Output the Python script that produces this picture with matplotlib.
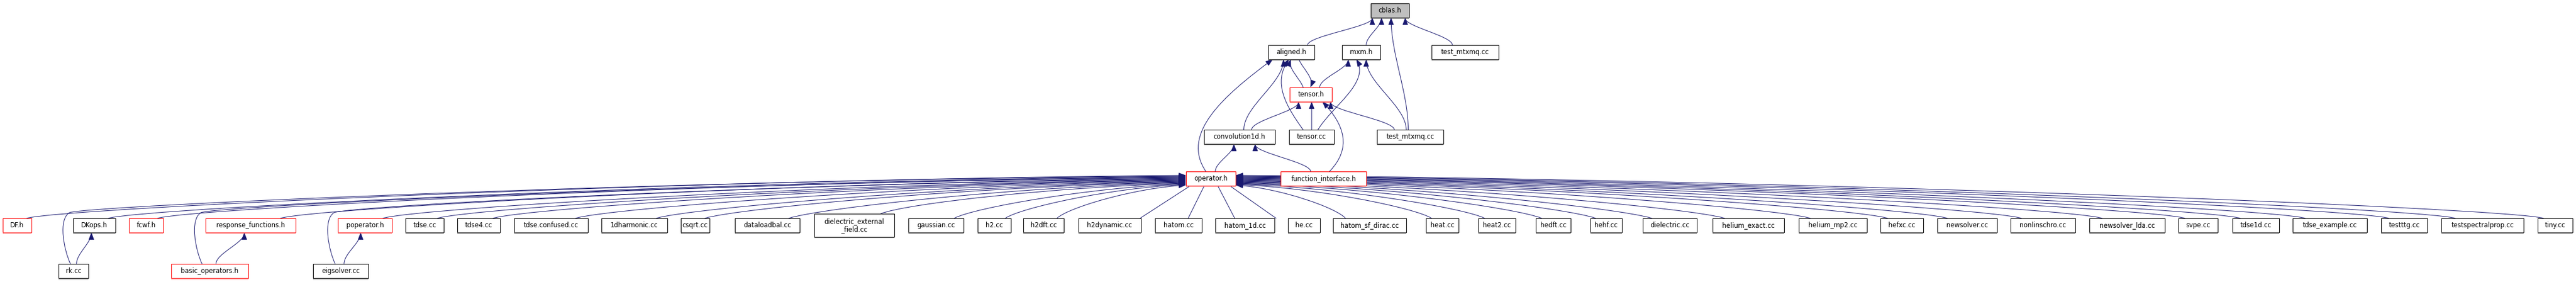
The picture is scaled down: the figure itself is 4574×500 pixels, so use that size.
import matplotlib.pyplot as plt
from matplotlib.patches import Rectangle, FancyArrowPatch, ArrowStyle
from matplotlib.path import Path

# ---- graph data ----
# nodes that have more includers than shown are drawn red
truncated = ['DF.h', 'fcwf.h', 'response_functions.h', 'poperator.h', 'basic_operators.h',
             'tensor.h', 'operator.h', 'function_interface.h']
root = 'cblas.h'

leaves = ['DF.h', 'DKops.h', 'fcwf.h', 'response_functions.h', 'poperator.h', 'tdse.cc',
          'tdse4.cc', 'tdse.confused.cc', '1dharmonic.cc', 'csqrt.cc', 'dataloadbal.cc',
          'dielectric_external\n_field.cc', 'gaussian.cc', 'h2.cc', 'h2dft.cc', 'h2dynamic.cc',
          'hatom.cc', 'hatom_1d.cc', 'he.cc', 'hatom_sf_dirac.cc', 'heat.cc', 'heat2.cc',
          'hedft.cc', 'hehf.cc', 'dielectric.cc', 'helium_exact.cc', 'helium_mp2.cc',
          'hefxc.cc', 'newsolver.cc', 'nonlinschro.cc', 'newsolver_lda.cc', 'svpe.cc',
          'tdse1d.cc', 'tdse_example.cc', 'testttg.cc', 'testspectralprop.cc', 'tiny.cc']
bottom_nodes = ['rk.cc', 'basic_operators.h', 'eigsolver.cc']

# (includer, included)
edges_top = [
    ('aligned.h', 'cblas.h'), ('mxm.h', 'cblas.h'), ('test_mtxmq.cc/2', 'cblas.h'),
    ('test_mtxmq.cc/1', 'cblas.h'), ('tensor.h', 'aligned.h'), ('aligned.h', 'tensor.h'),
    ('tensor.h', 'mxm.h'), ('convolution1d.h', 'aligned.h'), ('tensor.cc', 'aligned.h'),
    ('operator.h', 'aligned.h'), ('tensor.cc', 'mxm.h'), ('test_mtxmq.cc/2', 'mxm.h'),
    ('convolution1d.h', 'tensor.h'), ('tensor.cc', 'tensor.h'),
    ('function_interface.h', 'tensor.h'), ('test_mtxmq.cc/2', 'tensor.h'),
    ('operator.h', 'convolution1d.h'), ('function_interface.h', 'convolution1d.h'),
]
edges_low = [('rk.cc', 'DKops.h'), ('basic_operators.h', 'response_functions.h'),
             ('eigsolver.cc', 'poperator.h')]
edges_fan = [(n, 'operator.h') for n in leaves + bottom_nodes]

# ---- layout (pixel grid of the graph, y down) ----
row_top = [6, 80, 155, 230, 304, 387, 468]
box_h = 25
layout = {
    'cblas.h': (0, 2434, 2502), 'aligned.h': (1, 2252, 2334), 'mxm.h': (1, 2383, 2451),
    'test_mtxmq.cc/1': (1, 2542, 2661), 'tensor.h': (2, 2290, 2365),
    'convolution1d.h': (3, 2138, 2264), 'tensor.cc': (3, 2289, 2369),
    'test_mtxmq.cc/2': (3, 2445, 2563), 'operator.h': (4, 2106, 2194),
    'function_interface.h': (4, 2274, 2426),
    'rk.cc': (6, 104, 157), 'basic_operators.h': (6, 304, 441), 'eigsolver.cc': (6, 556, 654),
}
leaf_x = [(5, 56), (130, 205), (229, 290), (365, 525), (600, 696), (720, 788), (812, 888),
          (913, 1044), (1068, 1185), (1209, 1260), (1305, 1420), (1446, 1588), (1613, 1711),
          (1736, 1795), (1817, 1889), (1915, 2026), (2051, 2134), (2158, 2263), (2287, 2344),
          (2367, 2497), (2532, 2590), (2625, 2691), (2727, 2789), (2824, 2880), (2917, 3013),
          (3041, 3168), (3194, 3315), (3339, 3415), (3440, 3546), (3570, 3685), (3710, 3844),
          (3868, 3938), (3964, 4047), (4071, 4203), (4228, 4310), (4335, 4481), (4506, 4568)]
for name, (l, r) in zip(leaves, leaf_x):
    layout[name] = (5, l, r)

# anchor fractions along source/target box and bends for the short edges
route = {
    ('aligned.h', 'cblas.h'): (0.85, 0.04, 0, 0),
    ('mxm.h', 'cblas.h'): (0.63, 0.28, 0, 0),
    ('test_mtxmq.cc/2', 'cblas.h'): (0.47, 0.53, 0, 0),
    ('test_mtxmq.cc/1', 'cblas.h'): (0.31, 0.9, 0, 0),
    ('tensor.h', 'aligned.h'): (0.32, 0.49, -6, -6),
    ('aligned.h', 'tensor.h'): (0.66, 0.49, 7, 7),
    ('tensor.h', 'mxm.h'): (0.71, 0.16, 0, 0),
    ('convolution1d.h', 'aligned.h'): (0.56, 0.33, 0, 0),
    ('tensor.cc', 'aligned.h'): (0.31, 0.45, -30, -30),
    ('operator.h', 'aligned.h'): (0.4, 0.1, -45, -90),
    ('tensor.cc', 'mxm.h'): (0.64, 0.37, 25, 25),
    ('test_mtxmq.cc/2', 'mxm.h'): (0.44, 0.63, 0, 0),
    ('convolution1d.h', 'tensor.h'): (0.67, 0.21, 0, 0),
    ('tensor.cc', 'tensor.h'): (0.5, 0.52, 0, 0),
    ('function_interface.h', 'tensor.h'): (0.57, 0.77, 40, 40),
    ('test_mtxmq.cc/2', 'tensor.h'): (0.26, 0.97, 0, 0),
    ('operator.h', 'convolution1d.h'): (0.59, 0.42, 0, 0),
    ('function_interface.h', 'convolution1d.h'): (0.35, 0.72, 0, 0),
    ('rk.cc', 'DKops.h'): (0.6, 0.43, 0, 0),
    ('basic_operators.h', 'response_functions.h'): (0.58, 0.43, 0, 0),
    ('eigsolver.cc', 'poperator.h'): (0.56, 0.42, 0, 0),
}

edge_col = '#191970'
fs = 8.3

fig = plt.figure(figsize=(45.74, 5.0), dpi=100)
ax = fig.add_axes([0, 0, 1, 1])
ax.set_xlim(0, 4574)
ax.set_ylim(500, 0)
ax.axis('off')


def box_of(name):
    rank, l, r = layout[name]
    nlines = name.count('\n') + 1
    h = box_h + 16 * (nlines - 1)
    top = row_top[rank] + box_h / 2 - h / 2
    return l, r, top, top + h


def draw_node(name):
    l, r, t, b = box_of(name)
    red = name in truncated
    face = '#bfbfbf' if name == root else 'white'
    edge = '#ff0000' if red else 'black'
    ax.add_patch(Rectangle((l, t), r - l, b - t, facecolor=face, edgecolor=edge, lw=0.8, zorder=3))
    ax.plot([l, r], [b + 0.6, b + 0.6], color='#ff5c5c' if red else '#4d4d4d', lw=1.4,
            solid_capstyle='butt', zorder=4)
    ax.text((l + r) / 2, (t + b) / 2, name.split('/')[0], ha='center', va='center',
            fontsize=fs, family='DejaVu Sans', linespacing=1.05, zorder=5)


head = ArrowStyle('-|>', head_length=8, head_width=3)


def arrow(verts, codes):
    ax.add_patch(FancyArrowPatch(path=Path(verts, codes), arrowstyle=head, mutation_scale=1,
                                 color=edge_col, lw=0.75, zorder=2))


C = [Path.MOVETO, Path.CURVE4, Path.CURVE4, Path.CURVE4]


def draw_routed(src, dst, fs_, fd, b1, b2):
    sl, sr, st, sb = box_of(src)
    dl, dr, dt, db = box_of(dst)
    if layout[src][0] > layout[dst][0]:
        p0 = (sl + fs_ * (sr - sl), st)
        p3 = (dl + fd * (dr - dl), db)
    else:
        p0 = (sl + fs_ * (sr - sl), sb)
        p3 = (dl + fd * (dr - dl), dt)
    dy = p3[1] - p0[1]
    p1 = (p0[0] + b1, p0[1] + dy / 3)
    p2 = (p3[0] + b2, p3[1] - dy / 3)
    arrow([p0, p1, p2, p3], C)


for src, dst in edges_top + edges_low:
    draw_routed(src, dst, *route[(src, dst)])

# fan of includers into operator.h
ol, orr, ot, ob = box_of('operator.h')
ocx = (ol + orr) / 2
left_side, right_side, under = [], [], []
for src, _ in edges_fan:
    l, r, t, b = box_of(src)
    dx = (l + r) / 2 - ocx
    if abs(dx) < 200:
        under.append(src)
    elif dx < 0:
        left_side.append(src)
    else:
        right_side.append(src)


def dist(n):
    l, r, t, b = box_of(n)
    return abs((l + r) / 2 - ocx) + (60 if layout[n][0] == 6 else 0)


left_side.sort(key=dist, reverse=True)
right_side.sort(key=dist, reverse=True)

for side, tx in ((left_side, ol), (right_side, orr)):
    n = len(side)
    for i, src in enumerate(side):
        l, r, t, b = box_of(src)
        ty = ot + 7 + 17 * i / max(n - 1, 1)
        s = 1 if tx > l else -1
        if layout[src][0] == 6:
            # detour up through the gap between the lower rows
            sx = l + 0.4 * (r - l)
            wx, wy = sx - 2, 377
            arrow([(sx, t), (sx - 12, t - 25), (sx - 22, wy + 12), (wx, wy),
                   (wx + 25, wy - 12), (tx - s * 0.45 * abs(tx - wx), ty + 6), (tx, ty)],
                  [Path.MOVETO, Path.CURVE4, Path.CURVE4, Path.CURVE4,
                   Path.CURVE4, Path.CURVE4, Path.CURVE4])
            continue
        sx = l + (0.83 if s > 0 else 0.17) * (r - l)
        adx = abs(tx - sx)
        arrow([(sx, t), (sx + s * min(0.08 * adx, 60), t - 18),
               (tx - s * 0.42 * adx, ty + 6), (tx, ty)], C)

for src in under:
    l, r, t, b = box_of(src)
    cx = (l + r) / 2
    dx = cx - ocx
    sx = cx - 0.3 * dx
    tx = ocx + dx * 0.2
    arrow([(sx, t), (sx, t), (tx, ob), (tx, ob)], C)

for n in layout:
    draw_node(n)

fig.savefig('out.png', dpi=100, facecolor='white')
